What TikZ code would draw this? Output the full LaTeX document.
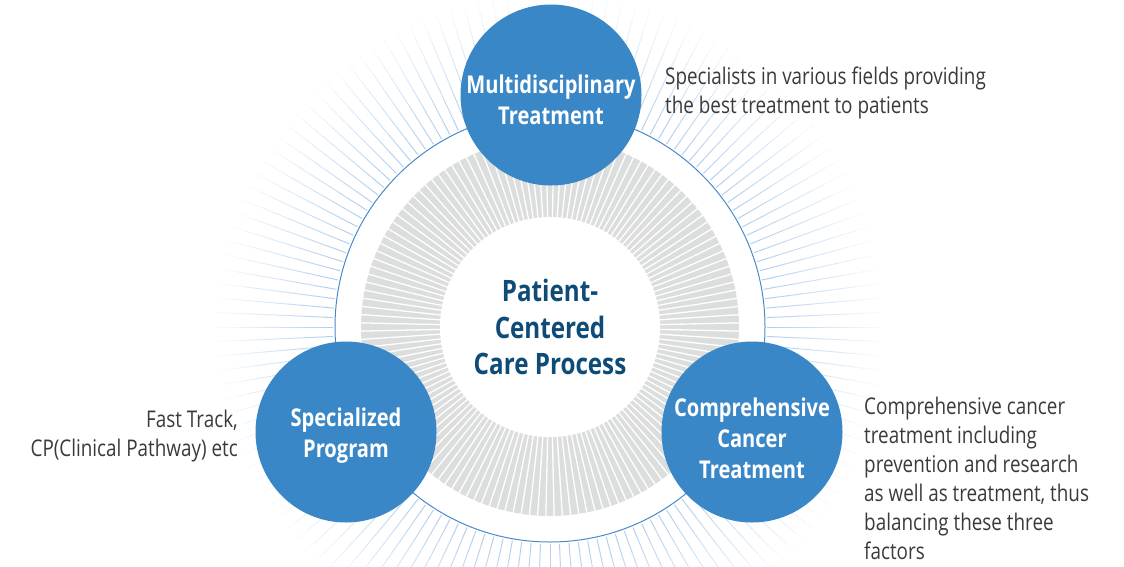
\documentclass[tikz,border=0pt]{standalone}
\usepackage{fontspec}
\setmainfont{Open Sans}[FakeStretch=0.82]
\usetikzlibrary{positioning}
\definecolor{bubblue}{HTML}{3A87C8}
\definecolor{rimblue}{HTML}{4A8ACB}
\definecolor{raylight}{HTML}{B2D0EE}
\definecolor{ringgray}{HTML}{DCDDDD}
\definecolor{hubnavy}{HTML}{0E4C77}
\definecolor{notegray}{HTML}{3A3A3A}
\begin{document}
\begin{tikzpicture}[x=1pt, y=-1pt, line join=round,
	bubble/.style={circle, fill=bubblue, minimum size=181pt, inner sep=0pt},
	bubtext/.style={align=center, text=white, inner sep=0pt, font=\fontsize{24.5}{31}\selectfont\bfseries},
	hubtext/.style={align=center, text=hubnavy, inner sep=0pt, font=\fontsize{29.5}{36.5}\selectfont\bfseries},
	note/.style={text=notegray, inner sep=0pt, font=\fontsize{23}{29.5}\selectfont}]
	\useasboundingbox (0,0) rectangle (1124,566);
	%%%%%%%%%%%%%%%%%%%%%%%%%%%%%%%%%
	\coordinate (O) at (550,327);
	%%%%%%%%%%%%%%%%%%%%%%%%%%%%%%%%%
	\begin{scope}[shift={(O)}]
		% fading rays
		\foreach \a in {0,2.5,...,357.5}{
			\foreach \k in {0,...,9}{
				\pgfmathsetmacro\p{int(100-10*\k)}
				\pgfmathsetmacro\ra{217+11.5*\k}
				\pgfmathsetmacro\rb{217+11.5*(\k+1)}
				\draw[raylight!\p!white, line width=1pt] (\a:\ra) -- (\a:\rb);
			}
		}
		\draw[rimblue, line width=1pt] (0,0) circle (215);
		% grey ring
		\fill[ringgray] (0,0) circle (189);
		\foreach \a in {1.25,3.75,...,358.75}
			\draw[white, line width=1.3pt] (\a:108) -- (\a:192);
		\fill[white] (0,0) circle (110);
	\end{scope}
	%%%%%%%%%%%%%%%%%%%%%%%%%%%%%%%%%
	\node[bubble] (multi) at (551,95) {};
	\node[bubble] (special) at (346,432) {};
	\node[bubble] (compre) at (752,432) {};
	\node[bubtext] (multitxt) at ([yshift=-5pt]multi.center) {Multidisciplinary\\Treatment};
	\node[bubtext] (specialtxt) at ([yshift=-4pt]special.center) {Specialized\\Program};
	\node[bubtext] (compretxt) at ([yshift=-6pt]compre.center) {Comprehensive\\Cancer\\Treatment};
	\node[hubtext] (hub) at (O) {Patient-\\Centered\\Care Process};
	%%%%%%%%%%%%%%%%%%%%%%%%%%%%%%%%%
	\node[note, align=left, anchor=west] (multinote) at (665,93) {Specialists in various fields providing\\the best treatment to patients};
	\node[note, align=right, anchor=east] (specialnote) at (238,436) {Fast Track,\\CP(Clinical Pathway) etc};
	\node[note, align=left, anchor=west, font=\fontsize{23}{29}\selectfont] (comprenote) at (864,478) {Comprehensive cancer\\treatment including\\prevention and research\\as well as treatment, thus\\balancing these three\\factors};
	%%%%%%%%%%%%%%%%%%%%%%%%%%%%%%%%%
\end{tikzpicture}
\end{document}
